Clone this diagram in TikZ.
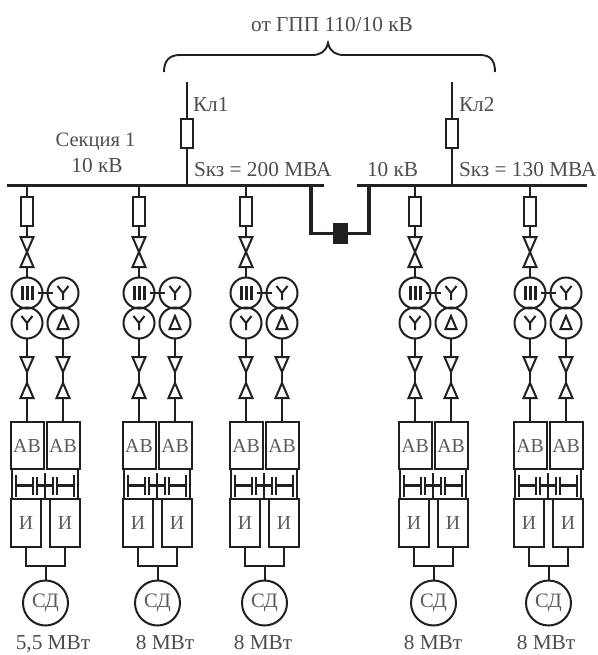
\documentclass[tikz,border=0pt]{standalone}
\usepackage{fontspec}
\setmainfont{Liberation Serif}
\usetikzlibrary{shapes.geometric}
\definecolor{ink}{HTML}{231F20}
\definecolor{lettering}{HTML}{5A5A5A}
\tikzset{
  wire/.style={draw=ink,line width=2pt},
  busbar/.style={draw=none,fill=ink,inner sep=0pt,outer sep=0pt,minimum height=3.4pt},
  fuse/.style={draw=ink,fill=white,line width=2pt,inner sep=0pt,outer sep=0pt,minimum width=12pt,minimum height=29pt},
  valve/.style={draw=ink,fill=white,line width=2pt,miter limit=2,isosceles triangle,isosceles triangle stretches,inner sep=0pt,outer sep=0pt,minimum height=15pt,minimum width=13pt},
  winding/.style={draw=ink,circle,line width=2pt,inner sep=0pt,outer sep=0pt,minimum size=31pt},
  glyph/.style={draw=ink,line width=2pt},
  unitbox/.style={draw=ink,line width=2pt,inner sep=0pt,outer sep=0pt,text=lettering,font=\fontsize{19.8}{22}\selectfont},
  motor/.style={draw=ink,circle,line width=2pt,inner sep=0pt,outer sep=0pt,minimum size=45pt,text=lettering,font=\fontsize{20.5}{22}\selectfont},
  lbl/.style={inner sep=0pt,outer sep=0pt,anchor=base,text=ink!80}
}
\begin{document}
\begin{tikzpicture}[x=1pt,y=-1pt,font=\fontsize{21.3}{24}\selectfont]
	\useasboundingbox (0,0) rectangle (597,655);
	% Busbars and the tie between them
	\node[busbar,minimum width=317pt] (busa) at (165.5,185.7) {};
	\node[busbar,minimum width=230pt] (busb) at (472,185.7) {};
	\node[draw=ink,fill=ink,inner sep=0pt,outer sep=0pt,minimum width=14pt,minimum height=20pt] (tie) at (340.5,233.5) {};
	\draw[wire,line width=3.2pt] (tie.west) -| (311,185.7);
	\draw[wire,line width=3.2pt] (tie.east) -| (369,185.7);
	
	% Incoming cables
	\coordinate (cabatop) at (186.5,82);
	\coordinate (cabbtop) at (452,82);
	\node[fuse] (fuina) at (186.5,133.5) {};
	\node[fuse] (fuinb) at (452,133.5) {};
	\draw[wire] (cabatop) -- (fuina.north);
	\draw[wire] (fuina.south) -- (fuina.south |- busa);
	\draw[wire] (cabbtop) -- (fuinb.north);
	\draw[wire] (fuinb.south) -- (fuinb.south |- busb);
	
	% Brace over the two cables
	\draw[draw=ink,line width=1.9pt] (164,72) .. controls (164,61) and (169,55) .. (180,55) -- (312,55)
		.. controls (320,55) and (326,52) .. (328,43) .. controls (330,52) and (336,55) .. (344,55)
		-- (480,55) .. controls (491,55) and (495,61) .. (495,72);
	
	% Labels at the top
	\node[lbl] (source) at (332,32) {от ГПП 110/10 кВ};
	\node[lbl,anchor=base west] (kla) at (193,112) {Кл1};
	\node[lbl,anchor=base west] (klb) at (459,112) {Кл2};
	\node[lbl,font=\fontsize{20.5}{22}\selectfont] (seca) at (95.5,147) {Секция 1};
	\node[lbl] (secb) at (97,172) {10 кВ};
	\node[lbl,anchor=base west] (ska) at (194,176) {Sкз = 200 МВА};
	\node[lbl,anchor=base west] (volt) at (367,176) {10 кВ};
	\node[lbl,anchor=base west] (skb) at (459,176) {Sкз = 130 МВА};
	
	% One converter bay per motor
	\foreach \n/\x/\bus/\lx/\mw in {1/27/busa/53/{5,5 МВт},2/139/busa/165/8 МВт,3/246/busa/263/8 МВт,4/415/busb/433/8 МВт,5/530/busb/546/8 МВт}{
		% Fuse and upper valve
		\node[fuse] (fu\n) at (\x,211.5) {};
		\draw[wire] (fu\n.north) -- (fu\n.north |- \bus);
		\node[valve,shape border rotate=270,anchor=apex] (vd\n) at (\x,252) {};
		\node[valve,shape border rotate=90,anchor=apex] (vu\n) at (\x,252) {};
		\draw[wire] (fu\n.south) -- (vd\n.lower side);
		
		% Transformer windings
		\node[winding] (wa\n) at (\x,293) {};
		\node[winding] (wb\n) at (\x+36,293) {};
		\node[winding] (wc\n) at (\x,323) {};
		\node[winding] (wd\n) at (\x+36,323) {};
		\draw[wire] (vu\n.lower side) -- (wa\n.north);
		\draw[wire] ([xshift=-5pt]wa\n.east) -- ([xshift=5pt]wb\n.west);
		\draw[glyph,line width=3pt,shift={(\x,293)}] (-5,-7) -- (-5,7) (0,-7) -- (0,7) (5,-7) -- (5,7);
		\draw[glyph,shift={(\x+36,293)}] (-5.5,-7) -- (0,0) -- (5.5,-7) (0,0) -- (0,7);
		\draw[glyph,shift={(\x,323)}] (-5.5,-7) -- (0,0) -- (5.5,-7) (0,0) -- (0,7);
		\draw[glyph,shift={(\x+36,323)}] (0,-7) -- (5.5,6) -- (-5.5,6) -- cycle;
		
		% Lower valves
		\node[valve,shape border rotate=270,anchor=apex] (vda\n) at (\x,372) {};
		\node[valve,shape border rotate=90,anchor=apex] (vua\n) at (\x,383) {};
		\node[valve,shape border rotate=270,anchor=apex] (vdb\n) at (\x+36,372) {};
		\node[valve,shape border rotate=90,anchor=apex] (vub\n) at (\x+36,383) {};
		\draw[wire] (wc\n.south) -- (vda\n.lower side);
		\draw[wire] (wd\n.south) -- (vdb\n.lower side);
		\draw[wire] (vda\n.apex) -- (vua\n.apex);
		\draw[wire] (vdb\n.apex) -- (vub\n.apex);
		
		% Rectifiers
		\node[unitbox,minimum width=33pt,minimum height=47pt] (ab\n) at (\x,445.5) {АВ};
		\node[unitbox,minimum width=33pt,minimum height=47pt] (ac\n) at (\x+36,445.5) {АВ};
		\draw[wire] (vua\n.lower side) -- (ab\n.north);
		\draw[wire] (vub\n.lower side) -- (ac\n.north);
		
		% DC link with its capacitors
		\draw[wire] (\x-15,469) -- (\x-15,499) (\x+51,469) -- (\x+51,499);
		\draw[glyph,line width=2.2pt,shift={(\x-27,0)}] (16,475) -- (16,497) (45,473) -- (45,498) (74,475) -- (74,497);
		\draw[glyph,line width=2.4pt,shift={(\x-27,0)}] (16,485.5) -- (33,485.5) (37,485.5) -- (53,485.5) (57,485.5) -- (74,485.5);
		\draw[glyph,line width=2.8pt,shift={(\x-27,0)}] (33,477) -- (33,495) (37,477) -- (37,495) (53,477) -- (53,495) (57,477) -- (57,495);
		
		% Inverters and the motor
		\node[unitbox,minimum width=30pt,minimum height=48pt] (in\n) at (\x-1,523) {И};
		\node[unitbox,minimum width=30pt,minimum height=48pt] (io\n) at (\x+38,523) {И};
		\draw[unitbox] (\x-16,499) -- (\x+53,499);
		\node[motor] (sd\n) at (\x+18.5,603) {СД};
		\draw[wire,line width=2.8pt] (in\n.south) -- ++(0,19) -| (io\n.south);
		\draw[wire] (sd\n.north) -- ++(0,-14);
		\node[lbl] (mw\n) at (\lx,649) {\mw};
	}
\end{tikzpicture}
\end{document}
